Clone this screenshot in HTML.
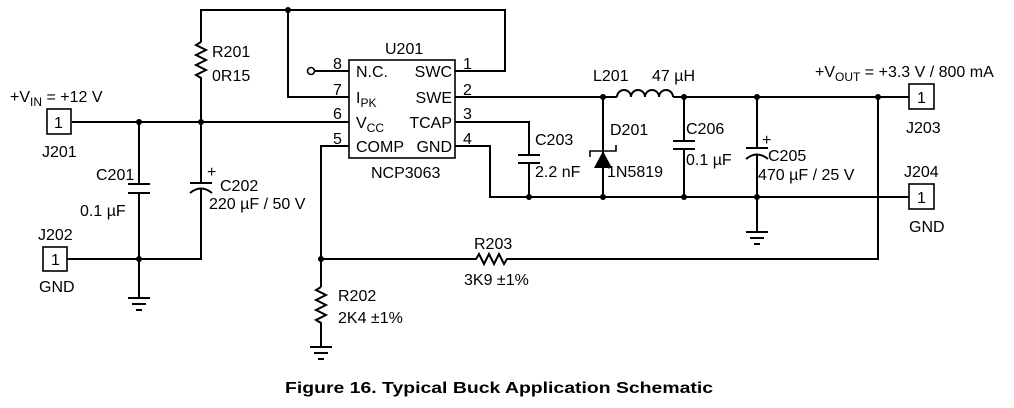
<!DOCTYPE html>
<html><head><meta charset="utf-8"><style>
html,body{margin:0;padding:0;background:#fff}
svg{display:block}
text{font-family:"Liberation Sans",Arial,sans-serif;font-size:16px;fill:#000}
</style></head><body>
<svg width="1014" height="408" viewBox="0 0 1014 408" xmlns="http://www.w3.org/2000/svg">
<g stroke="#000" stroke-width="2" fill="none" stroke-linejoin="miter">
<polyline points="201,42 201,10 505,10 505,71 455,71"/>
<polyline points="288,10 288,97 349,97"/>
<line x1="315" y1="71" x2="349" y2="71"/>
<circle cx="311" cy="71" r="3.5" stroke-width="1.6"/>
<polyline points="201,42 196,45 206,50 196,55 206,60 196,65 206,70 196,75 201,78 201,122"/>
<rect x="349" y="60" width="106" height="98" stroke-width="1.6"/>
<line x1="72" y1="122" x2="349" y2="122"/>
<rect x="47" y="109" width="24" height="25" stroke-width="1.6"/>
<line x1="139" y1="122" x2="139" y2="184"/>
<line x1="128" y1="184" x2="150" y2="184"/>
<line x1="128" y1="193" x2="150" y2="193"/>
<line x1="139" y1="193" x2="139" y2="298"/>
<line x1="201" y1="122" x2="201" y2="183"/>
<line x1="190" y1="183" x2="212" y2="183"/>
<path d="M190,193 Q201,184 212,193"/>
<polyline points="201,188 201,259 67,259"/>
<rect x="43" y="247" width="24" height="24" stroke-width="1.6"/>
<line x1="128" y1="298" x2="150" y2="298"/>
<line x1="132" y1="304" x2="146" y2="304"/>
<line x1="136" y1="310" x2="142" y2="310"/>
<polyline points="349,146 321,146 321,287"/>
<polyline points="321,287 316,290 326,295 316,300 326,305 316,310 326,315 316,320 321,323 321,347"/>
<line x1="310" y1="347" x2="332" y2="347"/>
<line x1="314" y1="353" x2="328" y2="353"/>
<line x1="318" y1="359" x2="324" y2="359"/>
<polyline points="321,259 476,259 479,254 484,264 489,254 494,264 499,254 504,264 507,259 878,259 878,97"/>
<line x1="455" y1="97" x2="617" y2="97"/>
<path d="M617,97 a7,7 0 0 1 14,0 a7,7 0 0 1 14,0 a7,7 0 0 1 14,0 a7,7 0 0 1 14,0"/>
<line x1="673" y1="97" x2="909" y2="97"/>
<rect x="909" y="84" width="25" height="25" stroke-width="1.6"/>
<polyline points="455,122 529,122 529,155"/>
<line x1="518" y1="155" x2="540" y2="155"/>
<line x1="518" y1="163" x2="540" y2="163"/>
<line x1="529" y1="163" x2="529" y2="197"/>
<polyline points="455,146 490,146 490,197 909,197"/>
<rect x="909" y="184" width="25" height="25" stroke-width="1.6"/>
<line x1="603" y1="97" x2="603" y2="197"/>
<polyline points="590,157 590,151 616,151 616,145" stroke-width="1.6"/>
<line x1="673" y1="141" x2="695" y2="141"/>
<line x1="673" y1="149" x2="695" y2="149"/>
<line x1="684" y1="97" x2="684" y2="141"/>
<line x1="684" y1="149" x2="684" y2="197"/>
<line x1="757" y1="97" x2="757" y2="148"/>
<line x1="746" y1="148" x2="768" y2="148"/>
<path d="M746,159 Q757,150 768,159"/>
<line x1="757" y1="154" x2="757" y2="232"/>
<line x1="746" y1="232" x2="768" y2="232"/>
<line x1="750" y1="238" x2="764" y2="238"/>
<line x1="754" y1="244" x2="760" y2="244"/>
</g>
<polygon points="603,151 594,168 612,168" fill="#000"/>
<g fill="#000">
<circle cx="288" cy="10" r="3"/>
<circle cx="139" cy="122" r="3"/>
<circle cx="201" cy="122" r="3"/>
<circle cx="139" cy="259" r="3"/>
<circle cx="321" cy="259" r="3"/>
<circle cx="603" cy="97" r="3"/>
<circle cx="684" cy="97" r="3"/>
<circle cx="757" cy="97" r="3"/>
<circle cx="878" cy="97" r="3"/>
<circle cx="529" cy="197" r="3"/>
<circle cx="603" cy="197" r="3"/>
<circle cx="684" cy="197" r="3"/>
<circle cx="757" cy="197" r="3"/>
</g>
<text x="10" y="102">+V<tspan font-size="12" dy="4">IN</tspan><tspan dy="-4"> = +12 V</tspan></text>
<text x="54" y="128" font-size="15">1</text>
<text x="42" y="157">J201</text>
<text x="212" y="57">R201</text>
<text x="212" y="81">0R15</text>
<text x="385" y="54">U201</text>
<text x="333" y="69">8</text>
<text x="333" y="95">7</text>
<text x="333" y="119">6</text>
<text x="333" y="144">5</text>
<text x="463" y="69">1</text>
<text x="463" y="95">2</text>
<text x="463" y="119">3</text>
<text x="463" y="144">4</text>
<text x="356" y="77">N.C.</text>
<text x="356" y="103">I<tspan font-size="12" dy="4">PK</tspan></text>
<text x="356" y="128">V<tspan font-size="12" dy="4">CC</tspan></text>
<text x="356" y="152">COMP</text>
<text x="452" y="77" text-anchor="end">SWC</text>
<text x="452" y="103" text-anchor="end">SWE</text>
<text x="452" y="128" text-anchor="end">TCAP</text>
<text x="452" y="152" text-anchor="end">GND</text>
<text x="371" y="178">NCP3063</text>
<text x="96" y="180">C201</text>
<text x="80" y="216">0.1 µF</text>
<text x="207" y="177" font-size="13">+</text>
<text x="220" y="191">C202</text>
<text x="209" y="209">220 µF / 50 V</text>
<text x="38" y="240">J202</text>
<text x="51" y="265" font-size="15">1</text>
<text x="39" y="292">GND</text>
<text x="338" y="301">R202</text>
<text x="338" y="323">2K4 ±1%</text>
<text x="474" y="249">R203</text>
<text x="464" y="285">3K9 ±1%</text>
<text x="593" y="81">L201</text>
<text x="652" y="81">47 µH</text>
<text x="815" y="77">+V<tspan font-size="12" dy="4">OUT</tspan><tspan dy="-4"> = +3.3 V / 800 mA</tspan></text>
<text x="917" y="103" font-size="15">1</text>
<text x="906" y="133">J203</text>
<text x="904" y="177">J204</text>
<text x="917" y="203" font-size="15">1</text>
<text x="909" y="232">GND</text>
<text x="535" y="145">C203</text>
<text x="535" y="177">2.2 nF</text>
<text x="610" y="135">D201</text>
<text x="607" y="177">1N5819</text>
<text x="686" y="134">C206</text>
<text x="686" y="165">0.1 µF</text>
<text x="762" y="145" font-size="13">+</text>
<text x="768" y="161">C205</text>
<text x="758" y="180">470 µF / 25 V</text>
<text x="285" y="393" font-weight="bold" font-size="18" textLength="428" lengthAdjust="spacingAndGlyphs">Figure 16. Typical Buck Application Schematic</text>
</svg>
</body></html>
